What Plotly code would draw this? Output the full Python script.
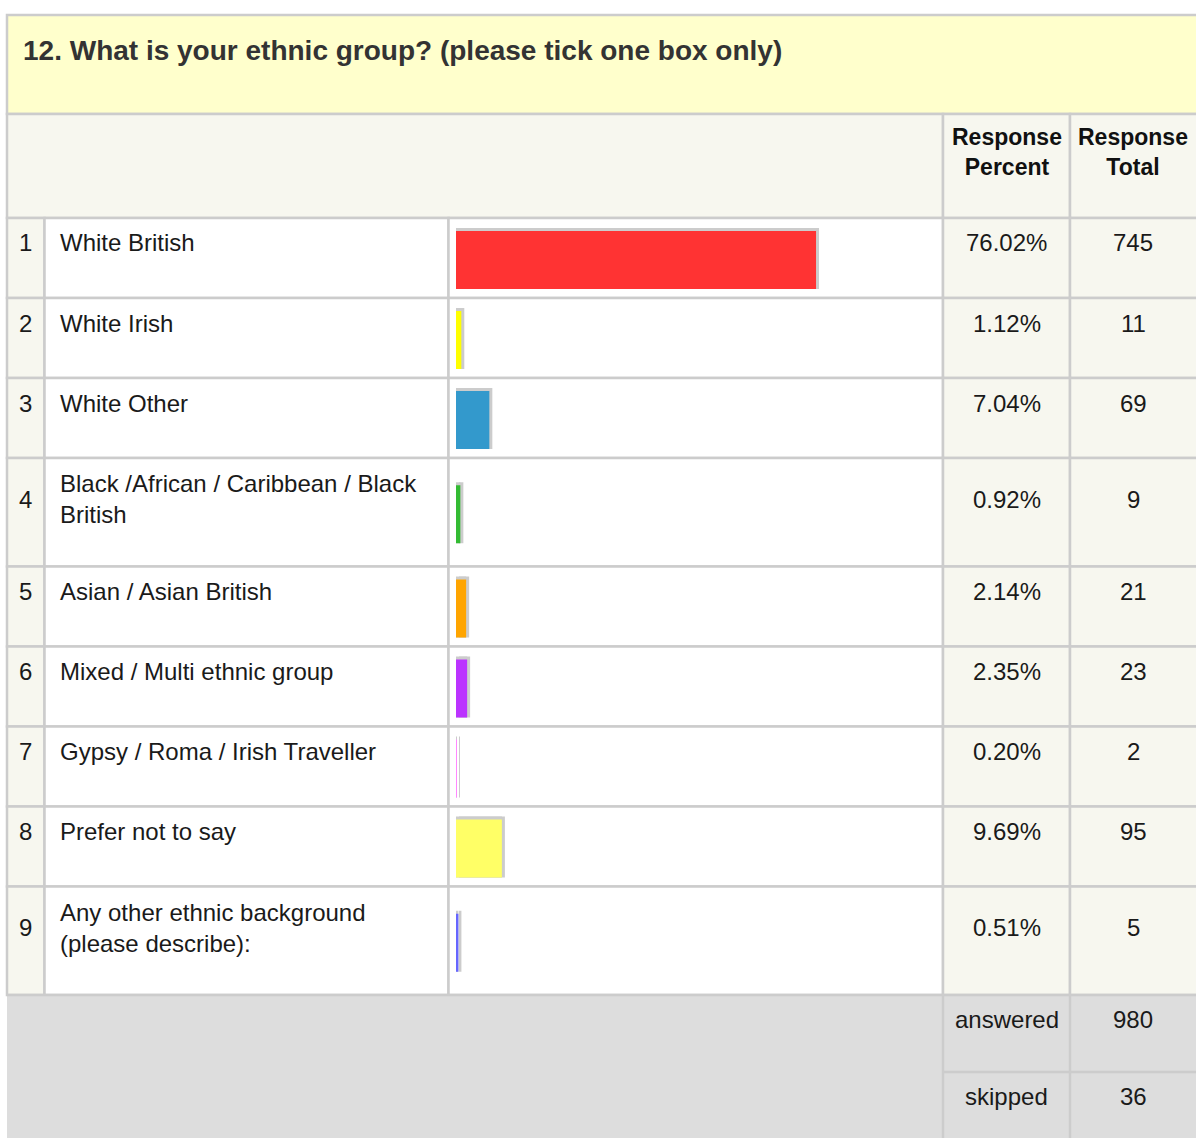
import textwrap
import plotly.graph_objects as go

# ---------------- data ----------------
question = "12. What is your ethnic group? (please tick one box only)"
header_cols = ["Response<br>Percent", "Response<br>Total"]
row_numbers = [1, 2, 3, 4, 5, 6, 7, 8, 9]
categories = [
    "White British",
    "White Irish",
    "White Other",
    "Black /African / Caribbean / Black British",
    "Asian / Asian British",
    "Mixed / Multi ethnic group",
    "Gypsy / Roma / Irish Traveller",
    "Prefer not to say",
    "Any other ethnic background (please describe):",
]
percents = [76.02, 1.12, 7.04, 0.92, 2.14, 2.35, 0.20, 9.69, 0.51]
totals = [745, 11, 69, 9, 21, 23, 2, 95, 5]
bar_colors = ["#FF3333", "#FFFF00", "#3399CC", "#33BB33", "#FFA500",
              "#BB33FF", "#FF88FF", "#FFFF66", "#6666FF"]
summary_labels = ["answered", "skipped"]
summary_values = [980, 36]

# ---------------- layout constants ----------------
W, H = 1196, 1138
X_L, X_NUM, X_BAR, X_PCT, X_TOT, X_R = 7, 44.5, 448.5, 943, 1070, 1200
Y_TITLE, Y_HEAD, Y_ROWS = 15, 114, 218
BAR_X0 = 456
PX_PER_PCT = 4.736
BAR_H = 58
GRID = "#CCCCCC"
FONT = "Liberation Sans, Arial, sans-serif"
LABEL_SIZE = 24
TXT = "#1a1a1a"


def px(x):
    return x / W


def py(y):
    return 1 - y / H


wrapped = [textwrap.wrap(c, 34) for c in categories]
row_h = [80 + 28.5 * (len(w) - 1) for w in wrapped]
tops = []
t = Y_ROWS
for h in row_h:
    tops.append(t)
    t += h
Y_SUM = t
sum_h = [77, 77]

shapes = []


def rect(x0, y0, x1, y1, fill, lw=2.5, lc=GRID):
    shapes.append(dict(type="rect", xref="paper", yref="paper",
                       x0=px(x0), x1=px(x1), y0=py(y1), y1=py(y0),
                       fillcolor=fill, line=dict(color=lc, width=lw),
                       layer="below"))


def line(x0, y0, x1, y1, lw=2.5):
    shapes.append(dict(type="line", xref="paper", yref="paper",
                       x0=px(x0), x1=px(x1), y0=py(y0), y1=py(y1),
                       line=dict(color=GRID, width=lw), layer="below"))


# title + header
rect(X_L, Y_TITLE, X_R, Y_HEAD, "#FFFFCC")
rect(X_L, Y_HEAD, X_PCT, Y_ROWS, "#F7F7EF")
rect(X_PCT, Y_HEAD, X_TOT, Y_ROWS, "#F7F7EF")
rect(X_TOT, Y_HEAD, X_R, Y_ROWS, "#F7F7EF")

# body rows
for top, h in zip(tops, row_h):
    bot = top + h
    rect(X_L, top, X_NUM, bot, "#F7F7EF")
    rect(X_NUM, top, X_BAR, bot, "#FFFFFF")
    rect(X_BAR, top, X_PCT, bot, "#FFFFFF")
    rect(X_PCT, top, X_TOT, bot, "#F7F7EF")
    rect(X_TOT, top, X_R, bot, "#F7F7EF")

# summary block
rect(X_L, Y_SUM, X_R, H + 5, "#DDDDDD", lw=0, lc="#DDDDDD")
line(X_L, Y_SUM, X_R, Y_SUM)
line(X_PCT, Y_SUM, X_PCT, H + 5)
line(X_TOT, Y_SUM, X_TOT, H + 5)
line(X_PCT, Y_SUM + sum_h[0], X_R, Y_SUM + sum_h[0])

annotations = []


def text(x, y, s, anchor="left", size=LABEL_SIZE, color=TXT, weight="normal"):
    annotations.append(dict(x=px(x), y=py(y), xref="paper", yref="paper",
                            text=s, showarrow=False, xanchor=anchor,
                            yanchor="middle", align=anchor if anchor != "center" else "center",
                            font=dict(family=FONT, size=size, color=color, weight=weight)))


text(21, 50, question, size=28, color="#333333", weight="bold")
text((X_PCT + X_TOT) / 2, 152, header_cols[0], anchor="center", size=23,
     color="#111111", weight="bold")
text((X_TOT + X_R - 4) / 2, 152, header_cols[1], anchor="center", size=23,
     color="#111111", weight="bold")

for n, w, p, tot, top in zip(row_numbers, wrapped, percents, totals, tops):
    yc = top + 25 + (len(w) - 1) * 16
    text((X_L + X_NUM) / 2, yc, str(n), anchor="center")
    text(58, yc, "<br>".join(w))
    text((X_PCT + X_TOT) / 2, yc, f"{p:.2f}%", anchor="center")
    text((X_TOT + X_R - 4) / 2, yc, str(tot), anchor="center")

st = Y_SUM
for lab, val, h in zip(summary_labels, summary_values, sum_h):
    text((X_PCT + X_TOT) / 2, st + 24, lab, anchor="center")
    text((X_TOT + X_R - 4) / 2, st + 24, str(val), anchor="center")
    st += h

# ---------------- bars ----------------
bar_y = [top + h / 2 + 2 for top, h in zip(tops, row_h)]
shadow_y = [y - 1.5 for y in bar_y]

fig = go.Figure()
# shadow shifted right (drawn first, subplot x2y2)
fig.add_trace(go.Bar(x=percents, y=shadow_y, orientation="h", width=BAR_H + 3,
                     marker=dict(color=GRID, line=dict(width=0)),
                     xaxis="x2", yaxis="y2", hoverinfo="skip", showlegend=False))
# shadow on top strip
fig.add_trace(go.Bar(x=percents, y=shadow_y, orientation="h", width=BAR_H + 3,
                     marker=dict(color=GRID, line=dict(width=0)),
                     xaxis="x3", yaxis="y2", hoverinfo="skip", showlegend=False))
# actual bars
fig.add_trace(go.Bar(x=percents, y=bar_y, orientation="h", width=BAR_H,
                     marker=dict(color=bar_colors, line=dict(width=0)),
                     xaxis="x3", yaxis="y2", showlegend=False,
                     customdata=categories,
                     hovertemplate="%{customdata}: %{x:.2f}%<extra></extra>"))

L = 100 * PX_PER_PCT
fig.update_layout(
    width=W, height=H,
    margin=dict(l=0, r=0, t=0, b=0),
    paper_bgcolor="#FFFFFF",
    plot_bgcolor="rgba(0,0,0,0)",
    barmode="overlay",
    showlegend=False,
    shapes=shapes,
    annotations=annotations,
    xaxis=dict(visible=False),
    yaxis=dict(visible=False),
    xaxis2=dict(domain=[px(BAR_X0 + 3), px(BAR_X0 + 3 + L)], range=[0, 100],
                visible=False, anchor="y2", fixedrange=True),
    xaxis3=dict(domain=[px(BAR_X0), px(BAR_X0 + L)], range=[0, 100],
                visible=False, anchor="y2", fixedrange=True),
    yaxis2=dict(domain=[0, 1], range=[H, 0], visible=False, anchor="x3",
                fixedrange=True),
)

fig.write_html("out.html")
